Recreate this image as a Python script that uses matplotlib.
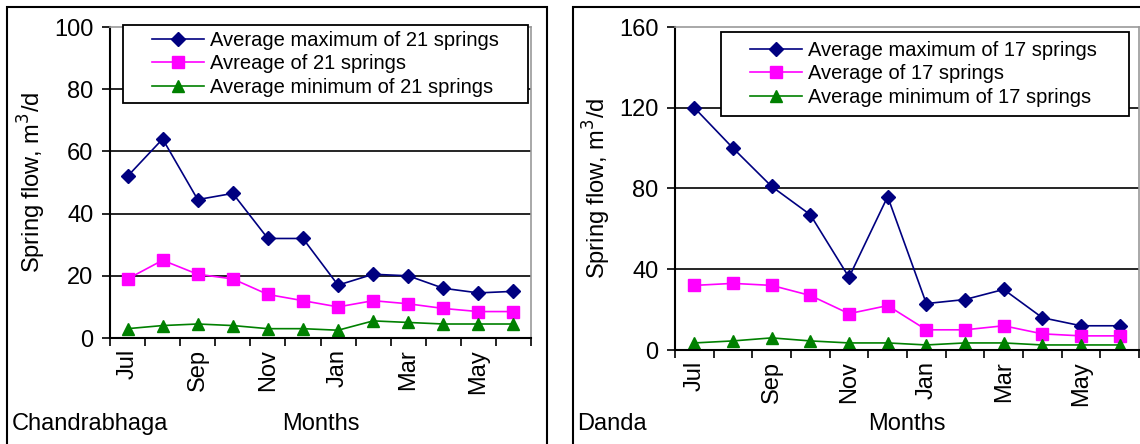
import matplotlib
matplotlib.use("Agg")
import matplotlib.pyplot as plt
from matplotlib.patches import Rectangle

plt.rcParams['font.family'] = ['Liberation Sans', 'DejaVu Sans']

months = ["Jul", "Aug", "Sep", "Oct", "Nov", "Dec", "Jan", "Feb", "Mar", "Apr", "May", "Jun"]

# Chandrabhaga (21 springs)
chan_max = [52, 64, 44.5, 46.5, 32, 32, 17, 20.5, 20, 16, 14.5, 15]
chan_avg = [19, 25, 20.5, 19, 14, 12, 10, 12, 11, 9.5, 8.5, 8.5]
chan_min = [3, 4, 4.5, 4, 3, 3, 2.5, 5.5, 5, 4.5, 4.5, 4.5]

# Danda (17 springs)
danda_max = [120, 100, 81, 67, 36, 76, 23, 25, 30, 16, 12, 12]
danda_avg = [32, 33, 32, 27, 18, 22, 10, 10, 12, 8, 7, 7]
danda_min = [3.5, 4.5, 6, 4.5, 3.5, 3.5, 2.5, 3.5, 3.5, 2.5, 2.5, 2.5]

W, H = 1140, 444
fig = plt.figure(figsize=(W / 100, H / 100), dpi=100)


def fx(px):
    return px / W


def fy(py):
    return 1 - py / H


def frame(x0, y0, x1, y1, lw):
    fig.patches.append(Rectangle((fx(x0), fy(y1)), fx(x1 - x0), (y1 - y0) / H,
                                 transform=fig.transFigure, fill=False,
                                 edgecolor="black", linewidth=lw, zorder=5))


# panel frames
frame(7, 7, 547, 470, 1.5)
frame(573, 7, 1160, 470, 1.5)


def make_panel(box, series, labels, ymax, ystep, name, legend_box, name_x):
    l, t, r, b = box
    ax = fig.add_axes([fx(l), fy(b), fx(r - l), (b - t) / H])
    x = list(range(len(months)))
    ax.plot(x, series[0], color="#000080", marker="D", markersize=7, linewidth=1.2, label=labels[0])
    ax.plot(x, series[1], color="#FF00FF", marker="s", markersize=8, linewidth=1.2, label=labels[1])
    ax.plot(x, series[2], color="#008000", marker="^", markersize=9, linewidth=1.2, label=labels[2])

    ax.set_xlim(-0.5, len(months) - 0.5)
    ax.set_ylim(0, ymax)
    yt = list(range(0, ymax + 1, ystep))
    ax.set_yticks(yt)
    ax.set_yticklabels([str(v) for v in yt], fontsize=17)
    for v in yt[1:-1]:
        ax.axhline(v, color="black", linewidth=1.2, zorder=0.5)

    ax.set_xticks([i - 0.5 for i in range(len(months) + 1)])
    ax.set_xticklabels([])
    ax.set_xticks(x[::2], minor=True)
    ax.set_xticklabels(months[::2], minor=True, rotation=90, fontsize=17)
    ax.tick_params(axis="x", which="minor", length=0, pad=8)
    ax.tick_params(axis="both", which="major", length=6, width=1.2, direction="out")
    ax.tick_params(axis="y", pad=6)

    for s in ["left", "bottom"]:
        ax.spines[s].set_linewidth(1.5)
    for s in ["top", "right"]:
        ax.spines[s].set_color("#999999")
        ax.spines[s].set_linewidth(1.2)

    ax.set_ylabel("Spring flow, m$^3$/d", fontsize=17, labelpad=4)

    # legend frame drawn separately, entries inset like the original
    lx0, lt, lx1, lb = legend_box
    ax.add_patch(Rectangle((fx(lx0), fy(lb)), fx(lx1 - lx0), (lb - lt) / H,
                           transform=fig.transFigure, facecolor="white",
                           edgecolor="black", linewidth=1.3, zorder=4, clip_on=False))
    leg = ax.legend(loc="center left", bbox_to_anchor=(fx(lx0 + 29), fy((lt + lb) / 2)),
                    bbox_transform=fig.transFigure, borderaxespad=0, borderpad=0,
                    fontsize=14.5, frameon=False, handlelength=2.6,
                    handletextpad=0.3, labelspacing=0.22)
    leg.set_zorder(6)

    fig.text(fx((l + r) / 2), fy(424), "Months", ha="center", va="center", fontsize=17)
    fig.text(fx(name_x), fy(424), name, ha="left", va="center", fontsize=17)
    return ax


make_panel((110, 27, 531, 338), [chan_max, chan_avg, chan_min],
           ["Average maximum of 21 springs", "Avreage of 21 springs", "Average minimum of 21 springs"],
           100, 20, "Chandrabhaga", (123, 25, 528, 103), 12)

make_panel((675, 27, 1139, 350), [danda_max, danda_avg, danda_min],
           ["Average maximum of 17 springs", "Average of 17 springs", "Average minimum of 17 springs"],
           160, 40, "Danda", (721, 32, 1129, 116), 577)

fig.savefig("out.png", dpi=100)
